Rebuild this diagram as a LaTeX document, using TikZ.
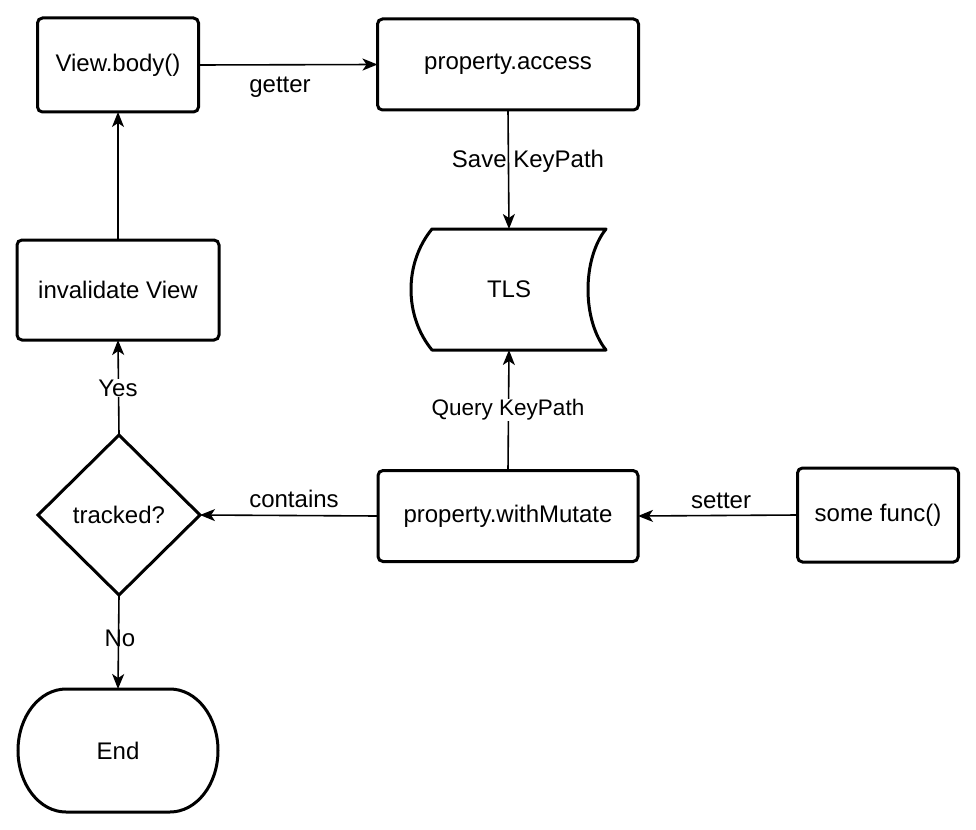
\documentclass[tikz,border=0pt]{standalone}
\usepackage{fontspec}
\setmainfont{Liberation Sans}
\usetikzlibrary{arrows.meta,shapes.geometric}
\begin{document}
\begin{tikzpicture}[x=1pt,y=1pt,
  font=\fontsize{24}{28}\selectfont,
  boxnode/.style={draw,line width=3pt,rounded corners=5pt,fill=white,inner sep=0pt,outer sep=0pt},
  conn/.style={line width=1.6pt,-{Stealth[length=15pt,width=12pt,inset=4pt]}},
  lbl/.style={inner sep=1pt},
  lblbg/.style={inner sep=1pt,fill=white},
]
\useasboundingbox[fill=white] (0,0) rectangle (976,-829);

\node[boxnode,minimum width=161pt,minimum height=94pt] (body) at (118,-65) {View.body()};
\node[boxnode,minimum width=261pt,minimum height=91pt] (access) at (508,-64.5) {property.access};
\node[boxnode,minimum width=202pt,minimum height=100pt] (inval) at (118,-290) {invalidate View};
\node[boxnode,minimum width=260pt,minimum height=91pt] (mutate) at (508,-516) {property.withMutate};
\node[boxnode,minimum width=161pt,minimum height=94pt] (func) at (878,-515) {some func()};
\node[diamond,draw,line width=3pt,fill=white,minimum width=162pt,minimum height=160pt,inner sep=0pt,outer sep=0pt] (track) at (119,-515) {tracked?};

% TLS data storage shape
\node[minimum width=194pt,minimum height=121pt,inner sep=0pt,outer sep=0pt] (tls) at (509,-289.5) {};
\draw[line width=3pt,line join=round]
  ([xshift=20pt]tls.north west) -- (tls.north east)
  .. controls ([xshift=-24pt,yshift=-30pt]tls.north east) and ([xshift=-24pt,yshift=30pt]tls.south east) .. (tls.south east)
  -- ([xshift=20pt]tls.south west)
  .. controls ([xshift=-8pt,yshift=34pt]tls.south west) and ([xshift=-8pt,yshift=-34pt]tls.north west) .. ([xshift=20pt]tls.north west) -- cycle;
\node at (tls.center) {TLS};

% End terminator
\node[minimum width=200pt,minimum height=123pt,inner sep=0pt,outer sep=0pt] (endn) at (118,-750.5) {};
\draw[line width=3pt]
  ([xshift=48pt]endn.north west) -- ([xshift=-48pt]endn.north east)
  arc[start angle=90,end angle=-90,x radius=48pt,y radius=61.5pt]
  -- ([xshift=48pt]endn.south west)
  arc[start angle=270,end angle=90,x radius=48pt,y radius=61.5pt] -- cycle;
\node at (endn.center) {End};

% connectors
\draw[conn] (body.east) -- (access.west);
\node[lbl] (lgetter) at (280,-87) {getter};
\draw[conn] (access.south) -- (tls.north);
\node[lbl] (lsave) at (528,-161) {Save KeyPath};
\draw[conn] (mutate.north) -- (tls.south);
\node[lblbg,font=\fontsize{22.5}{26}\selectfont] (lquery) at (508,-410) {Query KeyPath};
\draw[conn] (func.west) -- (mutate.west -| mutate.east);
\node[lbl] (lsetter) at (721,-501) {setter};
\draw[conn] (mutate.west) -- (track.east);
\node[lbl] (lcontains) at (294,-499) {contains};
\draw[conn] (track.north) -- (inval.south);
\node[lblbg] (lyes) at (118,-388) {Yes};
\draw[conn] (inval.north) -- (body.south);
\draw[conn] (track.south) -- (endn.north);
\node[lbl] (lno) at (120,-638) {No};
\end{tikzpicture}
\end{document}
